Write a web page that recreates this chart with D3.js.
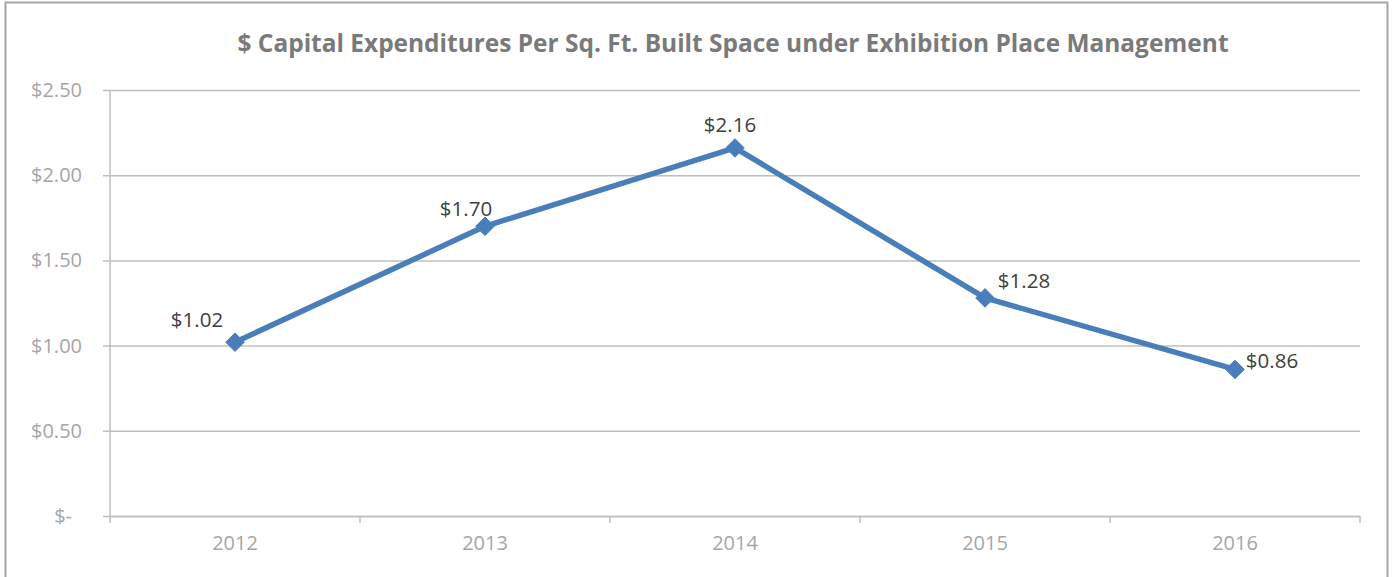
<!DOCTYPE html>
<html><head><meta charset="utf-8">
<script src="https://cdn.jsdelivr.net/npm/d3@7"></script>
<style>body{margin:0;background:#fff}svg{display:block}</style>
</head><body>
<svg id="c" width="1395" height="577"></svg>
<script>
const years = ["2012","2013","2014","2015","2016"];
const values = [1.02, 1.70, 2.16, 1.28, 0.86];
const yTicks = [0, 0.5, 1.0, 1.5, 2.0, 2.5];
const title = "$ Capital Expenditures Per Sq. Ft. Built Space under Exhibition Place Management";
// label offsets from marker (layout only)
const labelDx = [-38, -19, -5, 39, 37];
const labelDy = [-15, -10, -16, -10, -1];

const svg = d3.select("#c");
const font = "'Open Sans', 'Liberation Sans', sans-serif";
const m = {l:110, r:1360, t:90, b:516};

svg.append("rect").attr("x",5.5).attr("y",2.5).attr("width",1382).attr("height",590)
  .attr("fill","#fff").attr("stroke","#a6a6a6").attr("stroke-width",2);

const x = d3.scaleBand().domain(years).range([m.l, m.r]).padding(0);
const y = d3.scaleLinear().domain([0,2.5]).range([m.b, m.t]);

svg.append("text").attr("x",733).attr("y",52).attr("text-anchor","middle")
  .attr("font-family",font).attr("font-weight","bold").attr("font-size",25)
  .attr("textLength",991).attr("lengthAdjust","spacingAndGlyphs")
  .attr("fill","#7a7a7a").text(title);

// gridlines
const yAxis = d3.axisLeft(y).tickValues(yTicks).tickSize(-(m.r-m.l)).tickSizeOuter(0)
  .tickFormat(d => d===0 ? "$-" : "$" + d3.format(".2f")(d)).tickPadding(28);
const gy = svg.append("g").attr("transform",`translate(${m.l},0)`).call(yAxis);
gy.select(".domain").remove();
gy.selectAll(".tick line").attr("stroke","#bfbfbf").attr("stroke-width",1.5).attr("x1",-7);
gy.selectAll(".tick text").attr("font-family",font).attr("font-size",20).attr("fill","#a6a6a6");
gy.selectAll(".tick text").filter(d=>d===0).attr("dx",-10);

// y axis line
svg.append("line").attr("x1",m.l).attr("x2",m.l).attr("y1",m.t).attr("y2",m.b)
  .attr("stroke","#bfbfbf").attr("stroke-width",1.5);

// x axis
const xAxis = d3.axisBottom(x).tickSize(0).tickPadding(20);
const gx = svg.append("g").attr("transform",`translate(0,${m.b})`).call(xAxis);
gx.select(".domain").attr("stroke","#bfbfbf").attr("stroke-width",1.5);
gx.selectAll(".tick text").attr("font-family",font).attr("font-size",20).attr("fill","#a6a6a6");
const bounds = years.map(d=>x(d)).concat([m.r]);
gx.selectAll(".bt").data(bounds).enter().append("line")
  .attr("x1",d=>d).attr("x2",d=>d).attr("y1",0).attr("y2",7)
  .attr("stroke","#bfbfbf").attr("stroke-width",1.5);

const cx = d => x(d) + x.bandwidth()/2;
const pts = years.map((d,i)=>[cx(d), y(values[i])]);

svg.append("path").datum(pts).attr("d",d3.line())
  .attr("fill","none").attr("stroke","#4a7ebb").attr("stroke-width",5.5)
  .attr("stroke-linejoin","round");

svg.selectAll(".mk").data(pts).enter().append("path")
  .attr("transform",d=>`translate(${d[0]},${d[1]})`)
  .attr("d",d3.symbol().type(d3.symbolDiamond2).size(220))
  .attr("fill","#4a7ebb").attr("stroke","#4a7ebb").attr("stroke-width",1);

svg.selectAll(".lb").data(pts).enter().append("text")
  .attr("font-family",font).attr("font-size",20.5).attr("fill","#404040")
  .attr("text-anchor","middle")
  .attr("x",(d,i)=>d[0]+labelDx[i])
  .attr("y",(d,i)=>d[1]+labelDy[i])
  .text((d,i)=>"$" + d3.format(".2f")(values[i]));
</script>
</body></html>
